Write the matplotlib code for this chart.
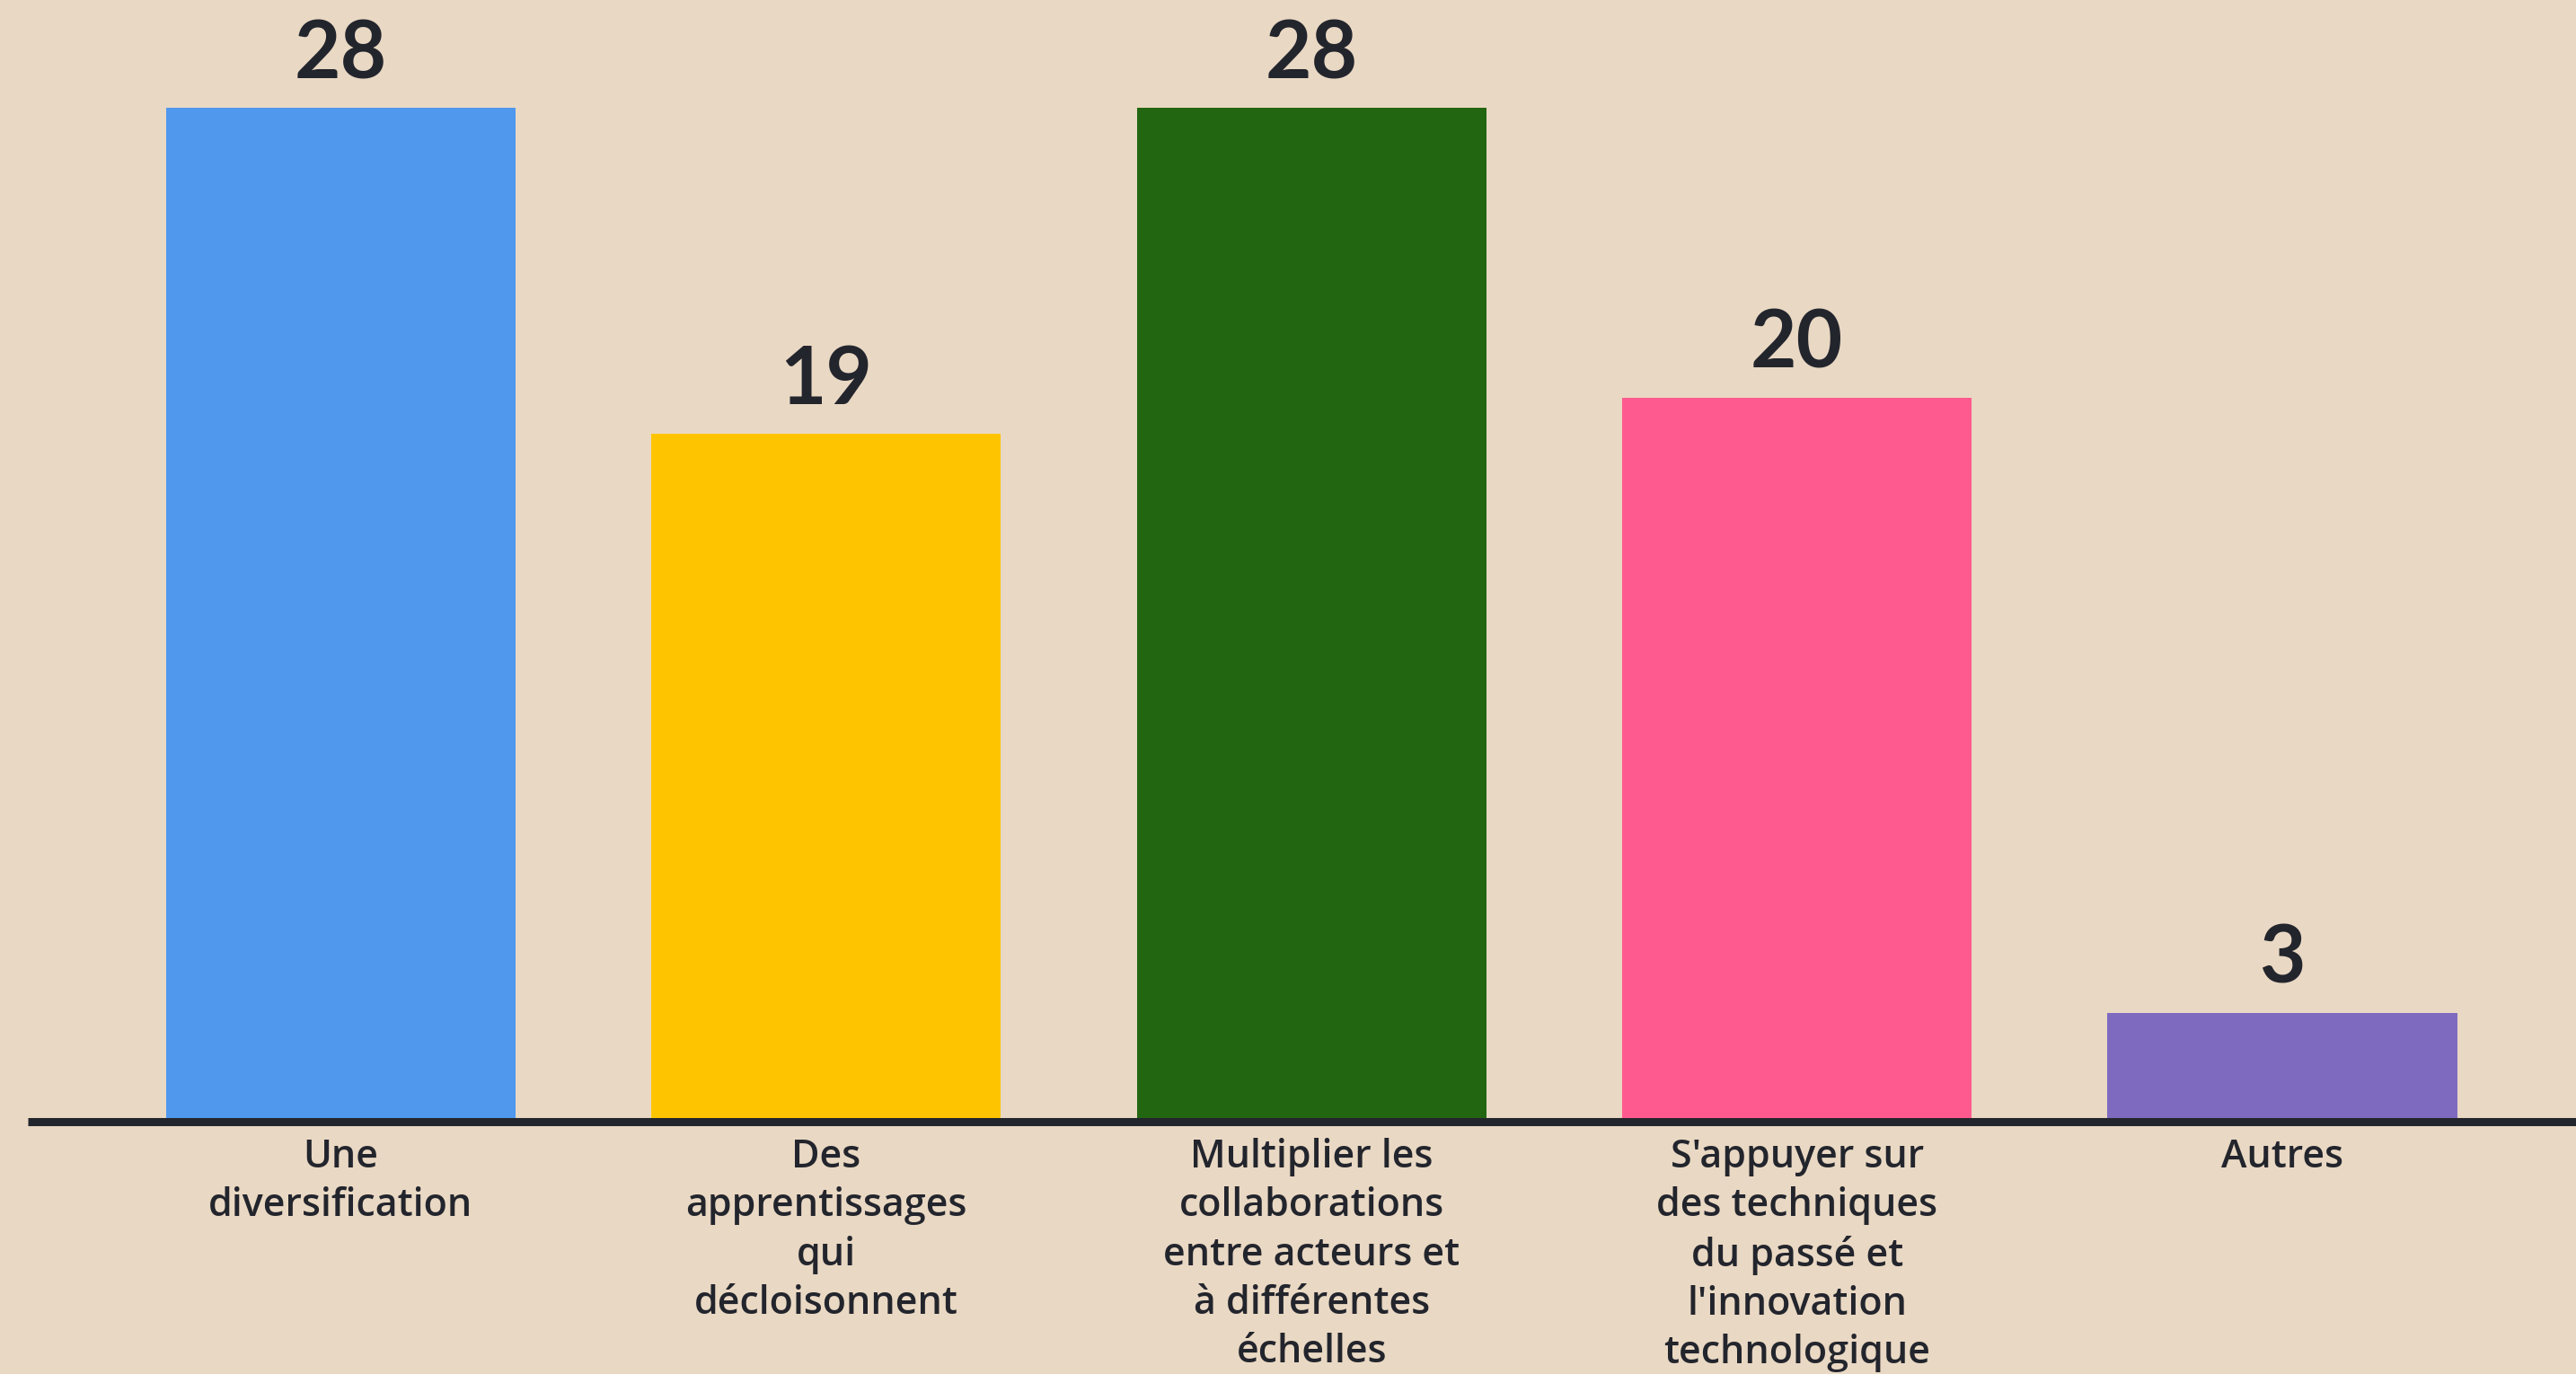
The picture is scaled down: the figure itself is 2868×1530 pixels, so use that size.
import matplotlib.pyplot as plt

categories = [
    "Une\ndiversification",
    "Des\napprentissages\nqui\ndécloisonnent",
    "Multiplier les\ncollaborations\nentre acteurs et\nà différentes\néchelles",
    "S'appuyer sur\ndes techniques\ndu passé et\nl'innovation\ntechnologique",
    "Autres",
]
values = [28, 19, 28, 20, 3]
colors = ["#4F98EE", "#FFC400", "#236612", "#FF5A8F", "#7E6BC0"]

bg = "#E9D8C3"
ink = "#23252D"

plt.rcParams['font.family'] = ['Lato', 'DejaVu Sans']

fig = plt.figure(figsize=(28.68, 15.3), dpi=100, facecolor=bg)
ax = fig.add_axes([0, 0, 1, 1])
ax.set_facecolor(bg)

xs = list(range(len(values)))
ax.bar(xs, values, width=0.72, color=colors, zorder=2)

# baseline
ax.plot([-0.645, 4.7], [0, 0], color=ink, linewidth=6.5, solid_capstyle='butt', zorder=3)

for x, v in zip(xs, values):
    ax.text(x, v + 0.45, str(v), ha='center', va='bottom', fontsize=64,
            fontweight='bold', color=ink)

for x, c in zip(xs, categories):
    ax.text(x, -0.45, c, ha='center', va='top', fontsize=31, fontweight='semibold',
            color=ink, linespacing=1.34, family=['Open Sans', 'DejaVu Sans'])

ax.set_xlim(-0.702, 4.605)
ax.set_ylim(-6.97, 30.98)
ax.axis('off')

plt.savefig('out.png', dpi=100, facecolor=bg)
